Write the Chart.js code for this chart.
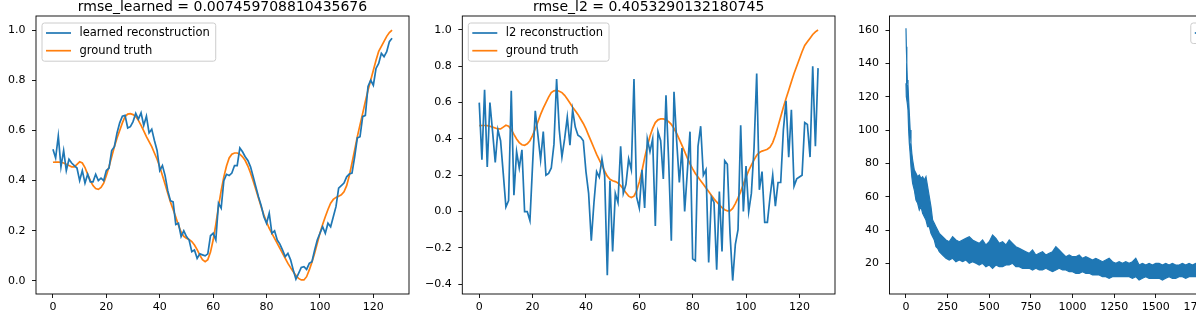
<!DOCTYPE html>
<html>
<head>
<meta charset="utf-8">
<script src="https://cdn.jsdelivr.net/npm/chart.js@4.4.1/dist/chart.umd.min.js"></script>
<style>
  html, body { margin: 0; padding: 0; background: #fff; overflow: hidden; }
  body { width: 1196px; height: 322px; position: relative; }
  canvas { position: absolute; top: 0; }
</style>
</head>
<body>
<canvas id="learned-chart" width="420" height="322" style="left:0;width:420px;height:322px"></canvas>
<canvas id="l2-chart" width="420" height="322" style="left:420px;width:420px;height:322px"></canvas>
<canvas id="loss-chart" width="440" height="322" style="left:840px;width:440px;height:322px"></canvas>
<script>
// sample index 0..127
const steps = Array.from({ length: 128 }, (_, i) => i);

const groundTruth = [
  0.473, 0.474, 0.474, 0.473, 0.47, 0.465, 0.46, 0.455, 0.455, 0.465,
  0.475, 0.47, 0.452, 0.425, 0.40, 0.38, 0.368, 0.365, 0.373, 0.39,
  0.42, 0.455, 0.495, 0.535, 0.57, 0.60, 0.63, 0.655, 0.665, 0.667,
  0.663, 0.655, 0.64, 0.62, 0.598, 0.575, 0.555, 0.535, 0.51, 0.485,
  0.455, 0.42, 0.385, 0.35, 0.315, 0.285, 0.255, 0.222, 0.195, 0.178,
  0.17, 0.165, 0.157, 0.143, 0.125, 0.103, 0.085, 0.077, 0.085, 0.115,
  0.163, 0.225, 0.296, 0.36, 0.415, 0.458, 0.49, 0.505, 0.51, 0.51,
  0.505, 0.495, 0.48, 0.458, 0.43, 0.398, 0.365, 0.33, 0.295, 0.263,
  0.235, 0.21, 0.19, 0.17, 0.15, 0.13, 0.11, 0.09, 0.07, 0.053,
  0.037, 0.022, 0.01, 0.004, 0.004, 0.017, 0.044, 0.075, 0.11, 0.15,
  0.19, 0.225, 0.256, 0.285, 0.31, 0.325, 0.333, 0.338, 0.343, 0.355,
  0.38, 0.42, 0.47, 0.522, 0.575, 0.622, 0.668, 0.715, 0.76, 0.80,
  0.84, 0.88, 0.915, 0.935, 0.955, 0.975, 0.99, 1.0
];

const learned = [
  0.525, 0.49, 0.578, 0.455, 0.52, 0.44, 0.485, 0.47, 0.46, 0.45,
  0.40, 0.44, 0.39, 0.425, 0.395, 0.395, 0.425, 0.40, 0.41, 0.40,
  0.44, 0.45, 0.52, 0.535, 0.59, 0.63, 0.657, 0.66, 0.61, 0.615,
  0.635, 0.668, 0.645, 0.67, 0.62, 0.657, 0.59, 0.605, 0.56, 0.52,
  0.44, 0.46, 0.42, 0.36, 0.32, 0.315, 0.225, 0.23, 0.177, 0.20,
  0.177, 0.163, 0.117, 0.123, 0.09, 0.108, 0.104, 0.10, 0.108, 0.18,
  0.19, 0.163, 0.31, 0.29, 0.40, 0.425, 0.42, 0.43, 0.46, 0.46,
  0.53, 0.515, 0.495, 0.48, 0.455, 0.415, 0.375, 0.335, 0.30, 0.256,
  0.23, 0.27, 0.19, 0.20, 0.163, 0.147, 0.123, 0.097, 0.11, 0.084,
  0.044, 0.007, 0.03, 0.054, 0.057, 0.046, 0.07, 0.077, 0.123, 0.163,
  0.19, 0.216, 0.19, 0.23, 0.216, 0.256, 0.296, 0.37, 0.38, 0.39,
  0.415, 0.426, 0.43, 0.495, 0.57, 0.575, 0.655, 0.66, 0.775, 0.80,
  0.78, 0.847, 0.867, 0.907, 0.894, 0.914, 0.954, 0.967
];

const l2 = [
  0.60, 0.285, 0.67, 0.245, 0.60, 0.44, 0.27, 0.45, 0.39, 0.21,
  0.025, 0.06, 0.665, 0.09, 0.33, 0.24, 0.34, 0.0, 0.0, -0.05,
  0.26, 0.555, 0.42, 0.285, 0.44, 0.20, 0.21, 0.24, 0.37, 0.73,
  0.45, 0.30, 0.40, 0.52, 0.365, 0.56, 0.465, 0.42, 0.41, 0.39,
  0.22, 0.10, -0.16, 0.05, 0.22, 0.19, 0.29, 0.20, -0.35, 0.17,
  -0.22, 0.10, 0.05, 0.36, 0.10, 0.15, 0.29, 0.23, 0.73, 0.08,
  0.02, 0.23, 0.02, 0.40, 0.33, 0.40, -0.08, 0.44, 0.39, 0.18,
  0.64, 0.28, -0.16, 0.66, 0.39, 0.16, 0.35, 0.00, 0.22, 0.44,
  -0.26, -0.27, 0.36, 0.47, 0.20, 0.23, -0.28, 0.08, 0.05, -0.32,
  0.11, -0.22, 0.28, 0.26, -0.12, -0.38, -0.18, -0.10, 0.475, 0.00,
  0.25, 0.00, 0.10, 0.35, 0.76, 0.12, 0.22, -0.06, -0.06, 0.08,
  0.20, 0.03, 0.16, 0.16, 0.45, 0.61, 0.30, 0.56, 0.14, 0.18,
  0.19, 0.20, 0.49, 0.48, 0.30, 0.80, 0.36, 0.79
];

// training loss: noisy band, read as upper / lower envelope per iteration
const lossIters = [
  0, 2, 5, 8, 12, 16, 20, 25, 30, 35,
  40, 50, 60, 70, 80, 90, 100, 110, 120, 130,
  140, 150, 160, 170, 180, 190, 200, 220, 240, 260,
  280, 300, 320, 340, 360, 380, 400, 420, 440, 460,
  480, 500, 520, 540, 560, 580, 600, 620, 640, 660,
  680, 700, 720, 740, 760, 780, 800, 820, 840, 860,
  880, 900, 920, 940, 960, 980, 1000, 1020, 1040, 1060,
  1080, 1100, 1120, 1140, 1160, 1180, 1200, 1220, 1240, 1260,
  1280, 1300, 1320, 1340, 1360, 1380, 1400, 1420, 1440, 1460,
  1480, 1500, 1520, 1540, 1560, 1580, 1600, 1620, 1640, 1660,
  1680, 1700, 1720, 1740, 1760, 1780
];
const lossUpper = [
  161, 150, 140, 130, 127, 118, 110, 100, 92, 86,
  82, 76, 74, 72, 73, 71, 72, 70, 72, 66,
  60, 54, 46, 44, 42, 40, 38, 36, 34, 33,
  36, 34, 33, 34, 35, 36, 34, 33, 32, 34,
  31, 33, 37, 35, 32, 33, 31, 34, 32, 30,
  29, 28, 27, 26, 28, 25, 26, 27, 25, 26,
  27, 30, 28, 26, 24, 25, 24, 24, 25, 23,
  24, 23, 22, 23, 22, 21, 22, 23, 21, 20,
  21, 20, 21, 20, 21, 23, 19, 20, 19, 20,
  19, 20, 20, 19, 20, 19, 20, 19, 19, 20,
  19, 20, 19, 20, 19, 19
];
const lossLower = [
  128, 120, 118, 116, 112, 100, 92, 86, 78, 72,
  68, 64, 58, 56, 52, 54, 50, 48, 46, 42,
  42, 38, 36, 34, 30, 29, 27, 25, 23, 22,
  23, 21, 22, 21, 22, 20, 21, 20, 19, 20,
  18, 19, 17, 19, 18, 18, 19, 19, 20, 18,
  18, 17, 17, 17, 16, 17, 16, 16, 17, 16,
  15, 16, 17, 16, 16, 15, 15, 14, 14, 15,
  14, 14, 13, 13, 13, 12, 12, 11, 12, 12,
  12, 12, 12, 12, 11, 12, 10, 11, 12, 11,
  11, 11, 11, 10, 11, 12, 11, 11, 12, 12,
  11, 12, 12, 12, 12, 12
];

const xTicksRecon = [0, 20, 40, 60, 80, 100, 120];
const yTicksLearned = [0, 0.2, 0.4, 0.6, 0.8, 1.0];
const yTicksL2 = [-0.4, -0.2, 0, 0.2, 0.4, 0.6, 0.8, 1.0];
const xTicksLoss = [0, 250, 500, 750, 1000, 1250, 1500, 1750, 2000];
const yTicksLoss = [20, 40, 60, 80, 100, 120, 140, 160];

const BLUE = "#1f77b4";
const ORANGE = "#ff7f0e";
const FONT = "DejaVu Sans";

// matplotlib-like frame, title and in-axes legend
const mplAxes = {
  id: "mplAxes",
  afterDatasetsDraw(chart, args, opts) {
    const { ctx, chartArea: a } = chart;
    ctx.save();
    ctx.strokeStyle = "#000";
    ctx.lineWidth = 0.9;
    ctx.strokeRect(a.left, a.top, a.right - a.left, a.bottom - a.top);

    if (opts.title) {
      ctx.fillStyle = "#000";
      ctx.font = `14px "${FONT}"`;
      ctx.textAlign = "center";
      ctx.textBaseline = "alphabetic";
      ctx.fillText(opts.title, (a.left + a.right) / 2, a.top - 5);
    }

    const items = chart.data.datasets.filter(d => d.label);
    if (items.length) {
      ctx.font = `11.5px "${FONT}"`;
      const textW = Math.max(...items.map(d => ctx.measureText(d.label).width));
      const w = 4 + 25 + 8.5 + textW + 6;
      const h = 20.5 + (items.length - 1) * 17.7;
      const x0 = opts.legendAt === "right" ? a.right - 6 - w : a.left + 6;
      const y0 = a.top + 7;
      ctx.beginPath();
      ctx.roundRect(x0, y0, w, h, 2.5);
      ctx.fillStyle = "rgba(255,255,255,0.8)";
      ctx.fill();
      ctx.strokeStyle = "#cccccc";
      ctx.lineWidth = 1;
      ctx.stroke();
      items.forEach((d, k) => {
        const y = y0 + 10 + k * 17.7;
        ctx.beginPath();
        ctx.moveTo(x0 + 4, y);
        ctx.lineTo(x0 + 29, y);
        ctx.strokeStyle = d.borderColor;
        ctx.lineWidth = 1.7;
        ctx.stroke();
        ctx.fillStyle = "#000";
        ctx.textAlign = "left";
        ctx.textBaseline = "middle";
        ctx.fillText(d.label, x0 + 37.5, y + 0.5);
      });
    }
    ctx.restore();
  }
};

function fmtTick(v, digits) {
  return v.toFixed(digits).replace("-", "\u2212");
}

function axis(range, ticks, digits, fit) {
  return {
    type: "linear",
    min: range[0],
    max: range[1],
    grid: { display: true, drawOnChartArea: false, drawTicks: true, tickLength: 4, color: "#000", lineWidth: 0.9 },
    border: { display: false },
    ticks: {
      font: { family: FONT, size: 11 },
      color: "#000",
      padding: fit.padding,
      autoSkip: false,
      maxRotation: 0,
      callback: v => fmtTick(v, digits)
    },
    afterBuildTicks: s => { s.ticks = ticks.map(v => ({ value: v })); },
    afterFit: s => {
      if (fit.width) s.width = fit.width;
      if (fit.height) s.height = fit.height;
    }
  };
}

function baseOptions(cfg) {
  return {
    responsive: false,
    animation: false,
    devicePixelRatio: 1,
    layout: { padding: { top: 16, right: cfg.padRight, left: 0, bottom: 0 } },
    elements: { point: { radius: 0 }, line: { tension: 0, borderWidth: 1.7 } },
    scales: {
      x: axis(cfg.xRange, cfg.xTicks, 0, { height: 28, padding: 3 }),
      y: axis(cfg.yRange, cfg.yTicks, cfg.yDigits, { width: cfg.yWidth, padding: 6.5 })
    },
    plugins: {
      legend: { display: false },
      tooltip: { enabled: false },
      mplAxes: { title: cfg.title, legendAt: cfg.legendAt }
    }
  };
}

const pts = (xs, ys) => xs.map((x, i) => ({ x: x, y: ys[i] }));

new Chart(document.getElementById("learned-chart"), {
  type: "line",
  data: {
    datasets: [
      { label: "learned reconstruction", data: pts(steps, learned), borderColor: BLUE },
      { label: "ground truth", data: pts(steps, groundTruth), borderColor: ORANGE }
    ]
  },
  options: baseOptions({
    title: "rmse_learned = 0.007459708810435676",
    xRange: [-6.35, 133.35], xTicks: xTicksRecon,
    yRange: [-0.052, 1.056], yTicks: yTicksLearned, yDigits: 1,
    yWidth: 36, padRight: 11, legendAt: "left"
  }),
  plugins: [mplAxes]
});

new Chart(document.getElementById("l2-chart"), {
  type: "line",
  data: {
    datasets: [
      { label: "l2 reconstruction", data: pts(steps, l2), borderColor: BLUE },
      { label: "ground truth", data: pts(steps, groundTruth), borderColor: ORANGE }
    ]
  },
  options: baseOptions({
    title: "rmse_l2 = 0.4053290132180745",
    xRange: [-6.35, 133.35], xTicks: xTicksRecon,
    yRange: [-0.454, 1.077], yTicks: yTicksL2, yDigits: 1,
    yWidth: 42.3, padRight: 5, legendAt: "left"
  }),
  plugins: [mplAxes]
});

new Chart(document.getElementById("loss-chart"), {
  type: "line",
  data: {
    datasets: [
      { label: "loss", data: pts(lossIters, lossUpper), borderColor: BLUE, borderWidth: 1.2 },
      { data: pts(lossIters, lossLower), borderColor: BLUE, borderWidth: 1.2, fill: "-1", backgroundColor: BLUE }
    ]
  },
  options: baseOptions({
    title: "",
    xRange: [-99, 2141], xTicks: xTicksLoss,
    yRange: [1.6, 168.4], yTicks: yTicksLoss, yDigits: 0,
    yWidth: 49.5, padRight: 17.5, legendAt: "right"
  }),
  plugins: [mplAxes]
});
</script>
</body>
</html>
